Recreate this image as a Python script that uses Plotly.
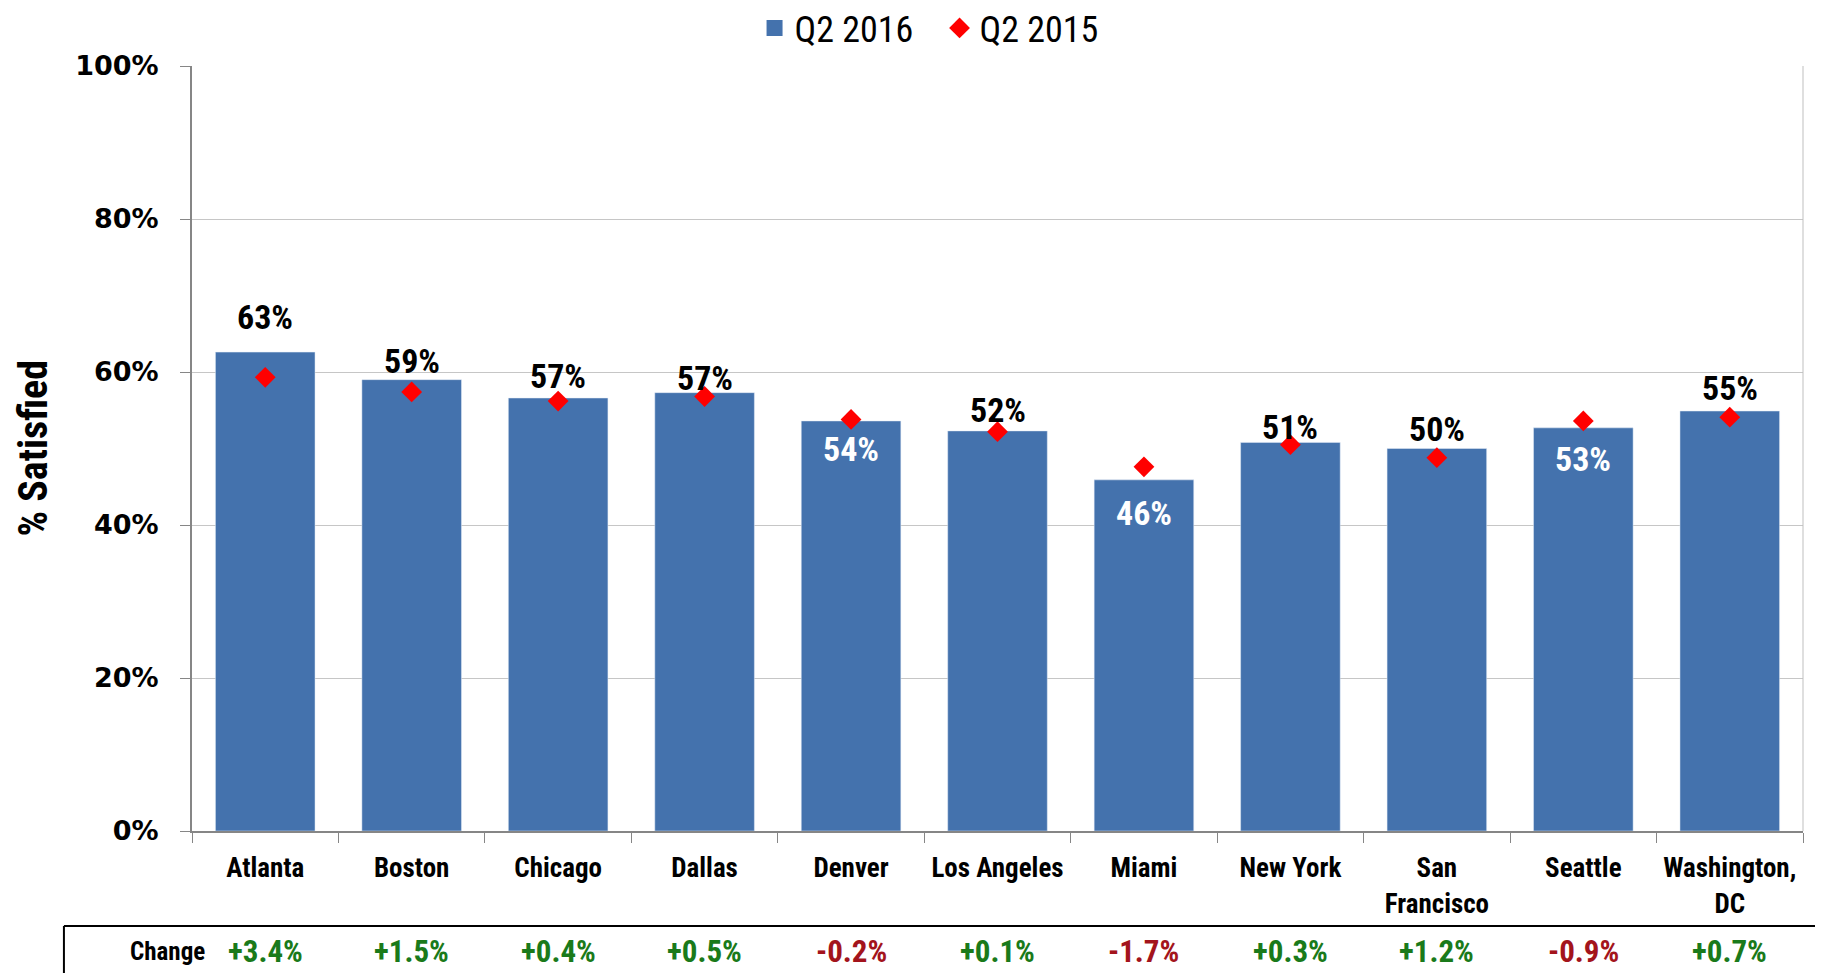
import plotly.graph_objects as go

cities = ["Atlanta", "Boston", "Chicago", "Dallas", "Denver", "Los Angeles",
          "Miami", "New York", "San<br>Francisco", "Seattle", "Washington,<br>DC"]
q2_2016 = [62.6, 59.0, 56.6, 57.3, 53.6, 52.3, 45.9, 50.8, 50.0, 52.7, 54.9]
q2_2015 = [59.3, 57.4, 56.2, 56.8, 53.8, 52.2, 47.6, 50.5, 48.8, 53.6, 54.1]
change = [3.4, 1.5, 0.4, 0.5, -0.2, 0.1, -1.7, 0.3, 1.2, -0.9, 0.7]
y_ticks = [0, 20, 40, 60, 80, 100]

# label placement (pixel shifts from bar top), inside labels are white
label_shift = [35, 19, 22, 15, -28, 21, -33, 15, 20, -31, 23]

NARROW = "Liberation Sans Narrow, Arial Narrow, Roboto Condensed, Noto Sans"
BAR_COLOR = "#4472ad"

fig = go.Figure()
fig.add_trace(go.Bar(x=cities, y=q2_2016, marker_color=BAR_COLOR, showlegend=False,
                     hoverinfo="skip"))
fig.add_trace(go.Scatter(x=cities, y=q2_2015, mode="markers", showlegend=False,
                         marker=dict(symbol="diamond", size=16, color="#ff0000")))
# legend entries
fig.add_trace(go.Scatter(x=[None], y=[None], mode="markers", name="Q2 2016",
                         marker=dict(symbol="square", size=16, color=BAR_COLOR)))
fig.add_trace(go.Scatter(x=[None], y=[None], mode="markers", name="Q2 2015",
                         marker=dict(symbol="diamond", size=16, color="#ff0000")))

annotations = []
for c, v, s in zip(cities, q2_2016, label_shift):
    annotations.append(dict(x=c, y=v, xref="x", yref="y", text=f"<b>{round(v):d}%</b>",
                            showarrow=False, yshift=s, yanchor="middle",
                            font=dict(family=NARROW, size=34,
                                      color="white" if s < 0 else "black")))
for c, ch in zip(cities, change):
    annotations.append(dict(x=c, y=-0.157, xref="x", yref="paper",
                            text=f"<b>{ch:+.1f}%</b>", showarrow=False, yanchor="middle",
                            font=dict(family=NARROW, size=31,
                                      color="#1a7a1a" if ch >= 0 else "#a3141c")))
annotations.append(dict(x=-0.04, y=-0.157, xref="paper", yref="paper", text="<b>Change</b>",
                        showarrow=False, yanchor="middle",
                        font=dict(family=NARROW, size=25, color="black")))
annotations.append(dict(x=-0.0981, y=0.5, xref="paper", yref="paper", text="<b>% Satisfied</b>",
                        showarrow=False, textangle=-90, xanchor="center", yanchor="middle",
                        font=dict(family=NARROW, size=40, color="black")))

shapes = [
    dict(type="line", xref="paper", yref="paper", x0=-0.0795, x1=1.0093, y0=-0.1242, y1=-0.1242,
         line=dict(color="black", width=2)),
    dict(type="line", xref="paper", yref="paper", x0=-0.0795, x1=-0.0795, y0=-0.1242, y1=-0.2,
         line=dict(color="black", width=2)),
    dict(type="line", xref="paper", yref="paper", x0=1.0093, x1=1.0093, y0=-0.1242, y1=-0.2,
         line=dict(color="black", width=2)),
    dict(type="line", xref="paper", yref="paper", x0=1, x1=1, y0=0, y1=1,
         line=dict(color="#bfbfbf", width=1)),
]

fig.update_layout(
    width=1823, height=973,
    margin=dict(l=184, r=28, t=58, b=150, autoexpand=False),
    paper_bgcolor="white", plot_bgcolor="white",
    bargap=0.32,
    font=dict(family=NARROW, color="black"),
    legend=dict(orientation="h", x=0.511, xanchor="center", xref="container",
                y=0.9794, yanchor="middle", yref="container", entrywidth=140,
                font=dict(family=NARROW, size=36), itemwidth=30, bgcolor="rgba(0,0,0,0)"),
    annotations=annotations,
    shapes=shapes,
    xaxis=dict(range=[-0.5, len(cities) - 0.5], showline=True, linecolor="#868686",
               linewidth=2, ticks="outside",
               tickson="boundaries", ticklen=10, tickcolor="#868686", tickwidth=1,
               tickfont=dict(family=NARROW, size=27, color="black"), automargin=False,
               ticklabelstandoff=12, showgrid=False, tickprefix="<b>", ticksuffix="</b>"),
    yaxis=dict(range=[0, 100], tickvals=y_ticks, ticktext=[f"<b>{t}%</b>" for t in y_ticks],
               showline=True, linecolor="#868686", linewidth=2, ticks="outside",
               ticklen=10, tickcolor="#868686", showgrid=True, gridcolor="#c6c6c6",
               gridwidth=1, zeroline=False, ticklabelstandoff=16, automargin=False,
               tickfont=dict(family="DejaVu Sans", size=27, color="black")),
)

fig.write_html("out.html")
